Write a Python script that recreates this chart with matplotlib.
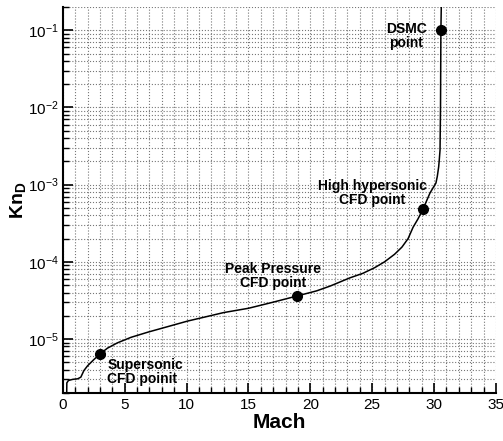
import matplotlib
matplotlib.use('Agg')
import matplotlib.pyplot as plt
from matplotlib.ticker import MultipleLocator, LogLocator, NullFormatter

plt.rcParams['font.family'] = ['Liberation Sans', 'DejaVu Sans']
plt.rcParams['mathtext.fontset'] = 'custom'
plt.rcParams['mathtext.rm'] = 'Liberation Sans'
plt.rcParams['mathtext.bf'] = 'Liberation Sans:bold'

# trajectory: Mach vs Knudsen number
mach = [0.3, 0.32, 0.45, 0.8, 1.2, 1.45, 1.7, 2.0, 2.5, 3.0, 3.6, 4.4, 5.5,
        6.9, 8.5, 10.1, 11.5, 13.0, 15.0, 17.0, 18.9, 20.5, 21.6, 23.2,
        24.25, 25.2, 26.0, 26.8, 27.4, 27.9, 28.3, 28.7, 29.1, 29.67, 30.15,
        30.26, 30.37, 30.42, 30.48, 30.52, 30.55, 30.6]
kn = [1.5e-6, 2.7e-6, 2.9e-6, 3.0e-6, 3.05e-6, 3.2e-6, 3.9e-6, 4.5e-6,
      5.4e-6, 6.4e-6, 7.6e-6, 8.9e-6, 1.05e-5, 1.23e-5, 1.45e-5, 1.71e-5,
      1.93e-5, 2.2e-5, 2.5e-5, 3.0e-5, 3.6e-5, 4.2e-5, 4.85e-5, 6.2e-5,
      7.1e-5, 8.4e-5, 1.0e-4, 1.25e-4, 1.55e-4, 2.0e-4, 2.8e-4, 3.6e-4,
      4.8e-4, 7.8e-4, 1.05e-3, 1.28e-3, 1.7e-3, 2.1e-3, 2.8e-3, 1.0e-2,
      1.0e-1, 0.3]

# marked points
pt_mach = [3.0, 18.9, 29.1, 30.55]
pt_kn = [6.4e-6, 3.6e-5, 4.8e-4, 1.0e-1]

fig = plt.figure(figsize=(5.03, 4.41), dpi=100)
ax = fig.add_axes([0.125, 0.109, 0.861, 0.875])

ax.plot(mach, kn, color='black', lw=1.1)
ax.plot(pt_mach, pt_kn, 'o', color='black', ms=7)

ax.set_yscale('log')
ax.set_xlim(0, 35)
ax.set_ylim(2e-6, 0.2)

ax.xaxis.set_major_locator(MultipleLocator(5))
ax.xaxis.set_minor_locator(MultipleLocator(1))
ax.yaxis.set_major_locator(LogLocator(base=10, numticks=10))
ax.yaxis.set_minor_locator(LogLocator(base=10, subs=range(2, 10), numticks=20))
ax.yaxis.set_minor_formatter(NullFormatter())

ax.grid(True, which='both', linestyle=':', color='#777777', lw=0.8)
ax.tick_params(which='both', direction='in', top=False, right=False, labelsize=11)
ax.tick_params(axis='y', which='major', pad=3)
ax.tick_params(which='major', length=7, width=1.2)
ax.tick_params(which='minor', length=4, width=1.0)
for s in ['top', 'right']:
    ax.spines[s].set_visible(False)
for s in ['bottom', 'left']:
    ax.spines[s].set_linewidth(1.5)

ax.set_xlabel('Mach', fontsize=15, fontweight='bold', labelpad=1)
ax.set_ylabel(r'$\mathbf{Kn_D}$', fontsize=14)
ax.yaxis.set_label_coords(-0.08, 0.5)

kw = dict(fontsize=10, fontweight='bold', linespacing=1.0)
ax.text(3.6, 5.6e-6, 'Supersonic\nCFD poinit', ha='left', va='top', **kw)
ax.text(17.0, 4.3e-5, 'Peak Pressure\nCFD point', ha='center', va='bottom', **kw)
ax.text(25.0, 5.2e-4, 'High hypersonic\nCFD point', ha='center', va='bottom', **kw)
ax.text(29.4, 5.6e-2, 'DSMC\npoint', ha='right', va='bottom', multialignment='center', **kw)

fig.savefig('out.png', dpi=100)
